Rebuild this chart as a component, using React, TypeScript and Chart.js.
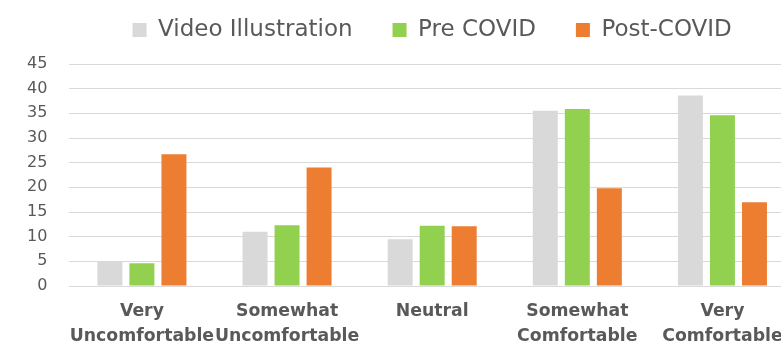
import React, { useEffect, useRef } from "react";
import { Chart, registerables } from "chart.js";

Chart.register(...registerables);

const categories: string[][] = [
  ["Very", "Uncomfortable"],
  ["Somewhat", "Uncomfortable"],
  ["Neutral"],
  ["Somewhat", "Comfortable"],
  ["Very", "Comfortable"],
];
const videoIllustration = [5, 11, 9.5, 35.5, 38.6];
const preCovid = [4.6, 12.3, 12.2, 35.9, 34.6];
const postCovid = [26.7, 24.0, 12.1, 19.8, 17.0];
const yTicks = [0, 5, 10, 15, 20, 25, 30, 35, 40, 45];

const TEXT = "#595959";

export default function App() {
  const ref = useRef<HTMLCanvasElement | null>(null);
  useEffect(() => {
    if (!ref.current) return;
    const legendSpacer = {
      id: "legendSpacer",
      beforeInit(chart: any) {
        const legend = chart.legend;
        if (!legend) return;
        const orig = legend.fit;
        legend.fit = function () {
          orig.bind(legend)();
          this.height += 12.5;
        };
      },
    };
    const chart = new Chart(ref.current, {
      type: "bar",
      data: {
        labels: categories,
        datasets: [
          { label: "Video Illustration", data: videoIllustration, backgroundColor: "#d9d9d9" },
          { label: "Pre COVID", data: preCovid, backgroundColor: "#92d050" },
          { label: "Post-COVID", data: postCovid, backgroundColor: "#ed7d31" },
        ],
      },
      options: {
        responsive: false,
        animation: false,
        devicePixelRatio: 1,
        layout: { padding: { top: -21.5, left: 5, right: 67, bottom: -15 } },
        datasets: {
          bar: { categoryPercentage: 0.662, barPercentage: 0.78 },
        },
        plugins: {
          legend: {
            position: "top",
            fullSize: false,
            labels: {
              boxWidth: 14,
              boxHeight: 14,
              padding: 40,
              color: TEXT,
              font: { family: "DejaVu Sans", size: 23 },
            },
          },
          tooltip: { enabled: false },
        },
        scales: {
          x: {
            grid: { display: false, drawTicks: false },
            border: { display: false },
            ticks: {
              color: TEXT,
              autoSkip: false,
              maxRotation: 0,
              padding: 13,
              font: { family: "DejaVu Sans", size: 17.3, weight: "bold", lineHeight: "25px" },
            },
          },
          y: {
            min: 0,
            max: 45,
            afterBuildTicks(axis: any) {
              axis.ticks = yTicks.map((v) => ({ value: v }));
            },
            grid: { color: "#d9d9d9", lineWidth: 1, drawTicks: false },
            border: { display: false },
            ticks: {
              color: TEXT,
              padding: 22,
              font: { family: "DejaVu Sans", size: 16 },
            },
          },
        },
      },
      plugins: [legendSpacer],
    });
    return () => chart.destroy();
  }, []);
  return (
    <div style={{ position: "fixed", left: 0, top: 0, width: 781, height: 347, overflow: "hidden", background: "#fff" }}>
      <canvas ref={ref} width={862} height={347} style={{ width: 862, height: 347, display: "block" }} />
    </div>
  );
}
